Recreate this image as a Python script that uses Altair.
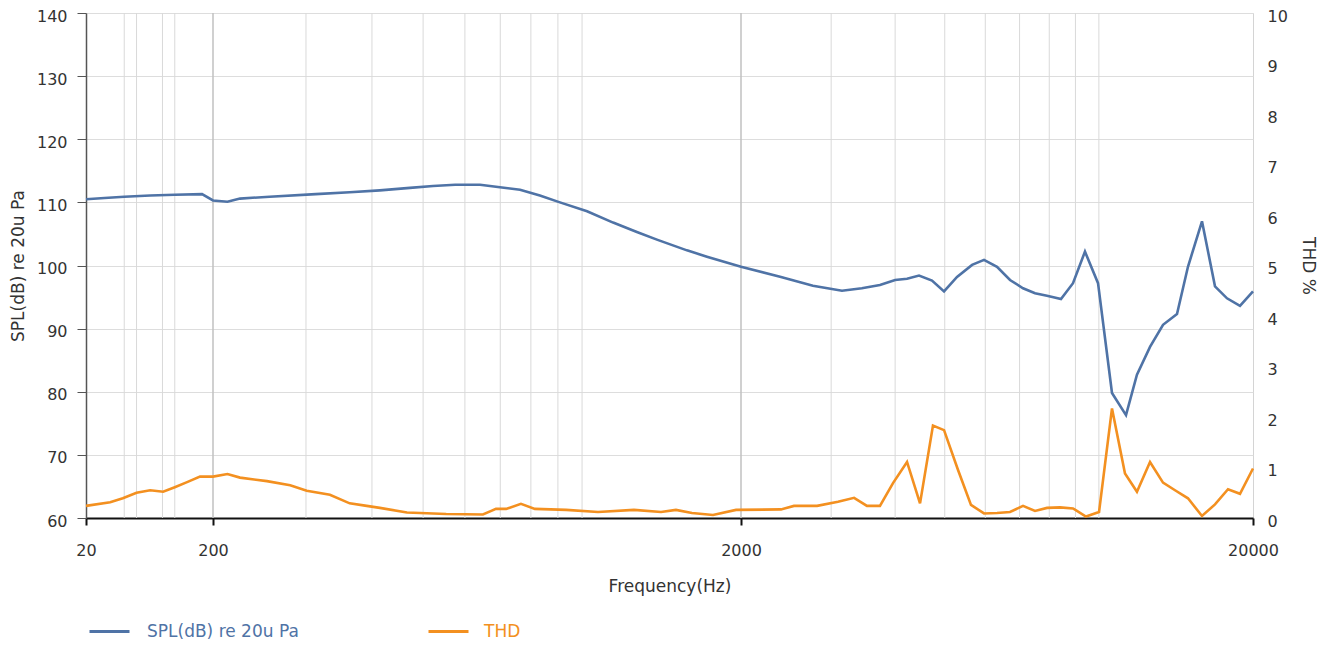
import altair as alt
import pandas as pd

# ---- data ----
SPL_NAME = "SPL(dB) re 20u Pa"
THD_NAME = "THD"

SPL_FREQ = [20, 28, 40, 64, 100, 164, 200, 213, 225, 256, 313, 363, 414, 472, 522, 575,
            641, 699, 763, 832, 908, 1022, 1145, 1270, 1386, 1580, 1724, 2000, 2384, 2764,
            3150, 3444, 3736, 4000, 4220, 4454, 4722, 4984, 5284, 5654, 5966, 6325, 6706,
            7110, 7504, 7920, 8434, 8902, 9394, 9962, 10608, 11298, 11868, 12586, 13344,
            14210, 14928, 15900, 16858, 17794, 18864, 20000]
SPL_DB = [110.5, 110.7, 110.9, 111.1, 111.2, 111.3, 110.3, 110.1, 110.6, 110.9, 111.3, 111.6,
          111.9, 112.3, 112.6, 112.8, 112.8, 112.4, 112.0, 111.1, 110.0, 108.6, 106.8, 105.3,
          104.1, 102.4, 101.4, 99.8, 98.2, 96.8, 96.0, 96.4, 96.9, 97.7, 97.9, 98.4, 97.6,
          95.9, 98.2, 100.1, 100.9, 99.8, 97.7, 96.4, 95.6, 95.2, 94.7, 97.2, 102.2, 97.2,
          79.8, 76.3, 82.7, 87.1, 90.6, 92.3, 99.8, 107.0, 96.7, 94.8, 93.6, 95.9]

THD_FREQ = [20, 31, 39, 50, 64, 81, 100, 125, 158, 200, 213, 225, 253, 280, 301, 333, 363,
            391, 414, 466, 553, 649, 687, 718, 766, 814, 933, 1072, 1254, 1411, 1506, 1615,
            1770, 1957, 2394, 2538, 2816, 3094, 3326, 3524, 3736, 3962, 4220, 4474, 4742,
            4984, 5308, 5626, 5966, 6325, 6706, 7110, 7504, 7920, 8396, 8902, 9436, 10008,
            10608, 11246, 11868, 12586, 13344, 14084, 14928, 15900, 16858, 17874, 18864, 20000]
THD_PCT = [0.24, 0.31, 0.39, 0.50, 0.55, 0.52, 0.61, 0.71, 0.82, 0.82, 0.87, 0.80, 0.73, 0.65,
           0.54, 0.46, 0.29, 0.24, 0.20, 0.11, 0.08, 0.07, 0.18, 0.18, 0.28, 0.18, 0.16, 0.12,
           0.16, 0.12, 0.16, 0.10, 0.06, 0.16, 0.17, 0.24, 0.24, 0.32, 0.40, 0.24, 0.24, 0.69,
           1.11, 0.29, 1.83, 1.74, 0.95, 0.26, 0.09, 0.10, 0.12, 0.24, 0.14, 0.20, 0.21, 0.19,
           0.03, 0.12, 2.17, 0.88, 0.52, 1.11, 0.70, 0.55, 0.39, 0.04, 0.27, 0.57, 0.48, 0.98]

X_TICKS = [20, 200, 2000, 20000]
X_DOMAIN = [20, 200, 2000, 20000]
GRID_MINOR = [40, 50, 80, 100, 300, 400, 500, 600, 700, 800, 900, 1000,
              3000, 4000, 5000, 6000, 7000, 8000, 9000, 10000]
GRID_MAJOR = [200, 2000]
SPL_TICKS = [60, 70, 80, 90, 100, 110, 120, 130, 140]
THD_TICKS = [0, 1, 2, 3, 4, 5, 6, 7, 8, 9, 10]

# ---- styling ----
BLUE = "#4f73a6"
ORANGE = "#f39020"
FONT = "DejaVu Sans"
W, H = 1167, 505

spl_df = pd.DataFrame({"freq": SPL_FREQ, "value": SPL_DB, "series": SPL_NAME})
thd_df = pd.DataFrame({"freq": THD_FREQ, "value": THD_PCT, "series": THD_NAME})
minor_df = pd.DataFrame({"freq": GRID_MINOR})
major_df = pd.DataFrame({"freq": GRID_MAJOR})

xscale = alt.Scale(type="log", domain=X_DOMAIN, range=[0, 127, 655, W], nice=False)
x_axis = alt.Axis(values=X_TICKS, title="Frequency(Hz)", grid=False, ticks=True,
                  tickSize=7, tickWidth=2, tickColor="#111", domainColor="#111",
                  domainWidth=2, labelPadding=17, labelFlush=False, format="d",
                  labelFontSize=16, titleFontSize=17, titleY=68, titleBaseline="middle")

def xenc():
    return alt.X("freq:Q", scale=xscale, axis=x_axis)

minor = alt.Chart(minor_df).mark_rule(color="#d9d9d9", strokeWidth=1).encode(x=xenc())
major = alt.Chart(major_df).mark_rule(color="#c0c0c0", strokeWidth=1.5).encode(x=xenc())

legend_common = dict(orient="none", legendY=597, title=None, symbolType="stroke",
                     symbolSize=1600, symbolStrokeWidth=3, labelFontSize=17,
                     labelFont=FONT, padding=0)

spl = alt.Chart(spl_df).mark_line(strokeWidth=2.6).encode(
    x=xenc(),
    y=alt.Y("value:Q",
            scale=alt.Scale(domain=[60, 140], zero=False, nice=False),
            axis=alt.Axis(orient="left", values=SPL_TICKS, title=SPL_NAME, grid=True,
                          gridColor="#dddddd", tickSize=9, tickColor="#555",
                          domainColor="#555", domainWidth=1.5, labelPadding=10,
                          labelOffset=3, labelFontSize=16, titleFontSize=17,
                          titleX=-68, titleBaseline="middle")),
    color=alt.Color("series:N", scale=alt.Scale(domain=[SPL_NAME], range=[BLUE]),
                    legend=alt.Legend(legendX=2, labelColor=BLUE, labelOffset=16,
                                      **legend_common)),
)

thd = alt.Chart(thd_df).mark_line(strokeWidth=2.6).encode(
    x=xenc(),
    y=alt.Y("value:Q",
            scale=alt.Scale(domain=[0, 10], zero=False, nice=False),
            axis=alt.Axis(orient="right", values=THD_TICKS, title="THD %", grid=False,
                          ticks=False, tickSize=0, domain=False, labelPadding=14,
                          labelOffset=3, labelFontSize=16, titleFontSize=17, titleX=54,
                          titleBaseline="middle", titleAngle=90)),
    color=alt.Color("series:N", scale=alt.Scale(domain=[THD_NAME], range=[ORANGE]),
                    legend=alt.Legend(legendX=341, labelColor=ORANGE, labelOffset=14,
                                      **legend_common)),
)

chart = alt.layer(minor, major, spl, thd).resolve_scale(
    y="independent", color="independent"
).properties(
    width=W, height=H,
    autosize=alt.AutoSizeParams(type="none"),
    padding={"left": 78, "top": 5, "right": 67, "bottom": 126},
).configure_view(stroke="#d4d4d4").configure_axis(
    labelFont=FONT, titleFont=FONT, labelColor="#333", titleColor="#333",
    titleFontWeight="normal"
).configure_legend(labelFont=FONT)

chart.save("out.html", embed_options={"renderer": "svg", "actions": False})
